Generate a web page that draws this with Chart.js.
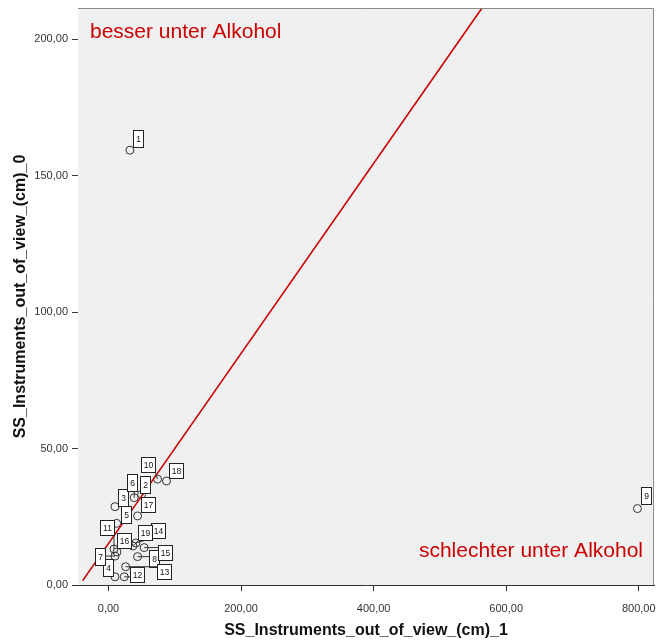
<!DOCTYPE html>
<html>
<head>
<meta charset="utf-8">
<script src="https://cdn.jsdelivr.net/npm/chart.js@4/dist/chart.umd.min.js"></script>
<style>
  html, body { margin: 0; padding: 0; background: #fff; }
  #box { width: 659px; height: 642px; }
</style>
</head>
<body>
<div id="box"><canvas id="scatter"></canvas></div>
<script>
// case numbers and their scores (alcohol = _1, sober = _0)
const caseIds = [1, 2, 3, 4, 5, 6, 7, 8, 9, 10, 11, 12, 13, 14, 15, 16, 17, 18, 19]
const xValues = [32.3, 49.9, 9.8, 9.8, 12.3, 38.8, 9.8, 43.9, 798, 74, 8.3, 23.8, 25.9, 41.4, 53.8, 12.8, 43.9, 87.5, 36.8]
const yValues = [159.3, 33.2, 28.7, 3.0, 22.6, 32.0, 10.6, 10.4, 28, 38.8, 13.2, 3.0, 6.7, 15.4, 13.7, 12.1, 25.3, 38.1, 14.3]

// red reference line, two end points
const lineX = [-39, 563]
const lineY = [1.6, 211.2]

const xTicks = [0, 200, 400, 600, 800]
const yTicks = [0, 50, 100, 150, 200]

const topLabel = 'besser unter Alkohol'
const bottomLabel = 'schlechter unter Alkohol'
const xTitle = 'SS_Instruments_out_of_view_(cm)_1'
const yTitle = 'SS_Instruments_out_of_view_(cm)_0'

const FONT = "'Liberation Sans', Arial, sans-serif"
const RED = '#cc0000'

// where each case label box sits relative to its point (top-left corner, px)
const labelNudge = {
  1: [3, -20], 2: [-2, -18], 3: [3, -18], 4: [-12, -18], 5: [4, -17],
  6: [-7, -24], 7: [-20, -8], 8: [11, -7], 9: [4, -22], 10: [-17, -22],
  11: [-14, -29], 12: [6, -10], 13: [31, -3], 14: [15, -20], 15: [14, -3],
  16: [0, -19], 17: [3, -19], 18: [3, -18], 19: [5, -21],
}

const fmt = (v) => v.toFixed(2).replace('.', ',')

const plotFrame = {
  id: 'plotFrame',
  beforeDatasetsDraw(chart) {
    const { ctx, chartArea: a } = chart
    ctx.save()
    ctx.fillStyle = '#f0f0f0'
    ctx.fillRect(a.left, a.top, a.right - a.left, a.bottom - a.top)
    ctx.restore()
  },
  afterDraw(chart) {
    const { ctx, chartArea: a } = chart
    ctx.save()
    ctx.strokeStyle = '#8a8a8a'
    ctx.lineWidth = 1
    ctx.beginPath()
    ctx.moveTo(a.left, a.top + 0.5)
    ctx.lineTo(a.right - 0.5, a.top + 0.5)
    ctx.lineTo(a.right - 0.5, a.bottom)
    ctx.stroke()
    ctx.restore()
  },
}

const caseLabels = {
  id: 'caseLabels',
  afterDatasetsDraw(chart) {
    const { ctx } = chart
    const meta = chart.getDatasetMeta(1)
    ctx.save()
    ctx.font = '8.5px ' + FONT
    ctx.textAlign = 'center'
    ctx.textBaseline = 'middle'
    meta.data.forEach((pt, i) => {
      const id = caseIds[i]
      const txt = String(id)
      const [dx, dy] = labelNudge[id] || [3, -18]
      const w = Math.round(ctx.measureText(txt).width + 5)
      const h = txt.length > 1 ? 15 : 17
      const bx = Math.round(pt.x + dx) + 0.5
      const by = Math.round(pt.y + dy) + 0.5
      // leader line when the box is pushed away from its point
      const nx = Math.max(bx, Math.min(pt.x, bx + w))
      const ny = Math.max(by, Math.min(pt.y, by + h))
      if (Math.hypot(nx - pt.x, ny - pt.y) > 6) {
        ctx.strokeStyle = '#333'
        ctx.lineWidth = 1
        ctx.beginPath()
        ctx.moveTo(pt.x, pt.y)
        ctx.lineTo(nx, ny)
        ctx.stroke()
      }
      ctx.fillStyle = '#fff'
      ctx.fillRect(bx, by, w, h)
      ctx.strokeStyle = '#222'
      ctx.strokeRect(bx, by, w, h)
      ctx.fillStyle = '#111'
      ctx.fillText(txt, bx + w / 2, by + h / 2 + 0.5)
    })
    ctx.restore()
  },
}

const regionText = {
  id: 'regionText',
  afterDatasetsDraw(chart) {
    const { ctx, chartArea: a } = chart
    ctx.save()
    ctx.fillStyle = RED
    ctx.font = '21px ' + FONT
    ctx.textBaseline = 'alphabetic'
    ctx.textAlign = 'left'
    ctx.fillText(topLabel, a.left + 12, a.top + 30)
    ctx.textAlign = 'right'
    ctx.fillText(bottomLabel, a.right - 11, a.bottom - 28)
    ctx.restore()
  },
}

new Chart(document.getElementById('scatter').getContext('2d'), {
  type: 'scatter',
  data: {
    datasets: [
      {
        type: 'line',
        data: lineX.map((x, i) => ({ x, y: lineY[i] })),
        borderColor: RED,
        borderWidth: 1.6,
        pointRadius: 0,
        fill: false,
      },
      {
        data: xValues.map((x, i) => ({ x, y: yValues[i] })),
        pointStyle: 'circle',
        pointRadius: 4,
        borderWidth: 1,
        borderColor: '#333',
        backgroundColor: 'rgba(0,0,0,0)',
      },
    ],
  },
  options: {
    responsive: true,
    maintainAspectRatio: false,
    animation: false,
    layout: { padding: { top: 8, right: 2, left: 0, bottom: 0 } },
    scales: {
      x: {
        type: 'linear',
        min: -46,
        max: 823,
        afterBuildTicks: (s) => { s.ticks = xTicks.map((v) => ({ value: v })) },
        afterFit: (s) => {
          s.height = 57
          s.paddingLeft = 0
          s.paddingRight = 0
        },
        grid: { drawOnChartArea: false, color: '#333', tickLength: 6 },
        border: { color: '#333', width: 1 },
        ticks: {
          color: '#333',
          font: { family: FONT, size: 11 },
          padding: 11,
          callback: (v) => fmt(v),
        },
        title: {
          display: true,
          text: xTitle,
          color: '#111',
          font: { family: FONT, size: 16, weight: 'bold' },
          padding: { top: 4, bottom: 1.5 },
        },
      },
      y: {
        type: 'linear',
        min: 0,
        max: 211.4,
        afterBuildTicks: (s) => { s.ticks = yTicks.map((v) => ({ value: v })) },
        afterFit: (s) => {
          s.width = 78
          s.paddingTop = 0
          s.paddingBottom = 0
        },
        grid: { drawOnChartArea: false, color: '#333', tickLength: 6 },
        border: { color: '#333', width: 1 },
        ticks: {
          color: '#333',
          font: { family: FONT, size: 11 },
          padding: 4,
          callback: (v) => fmt(v),
        },
        title: {
          display: true,
          text: yTitle,
          color: '#111',
          font: { family: FONT, size: 16, weight: 'bold' },
          padding: { top: 11, bottom: 0 },
        },
      },
    },
    plugins: {
      legend: { display: false },
      tooltip: { enabled: false },
    },
  },
  plugins: [plotFrame, caseLabels, regionText],
})
</script>
</body>
</html>
